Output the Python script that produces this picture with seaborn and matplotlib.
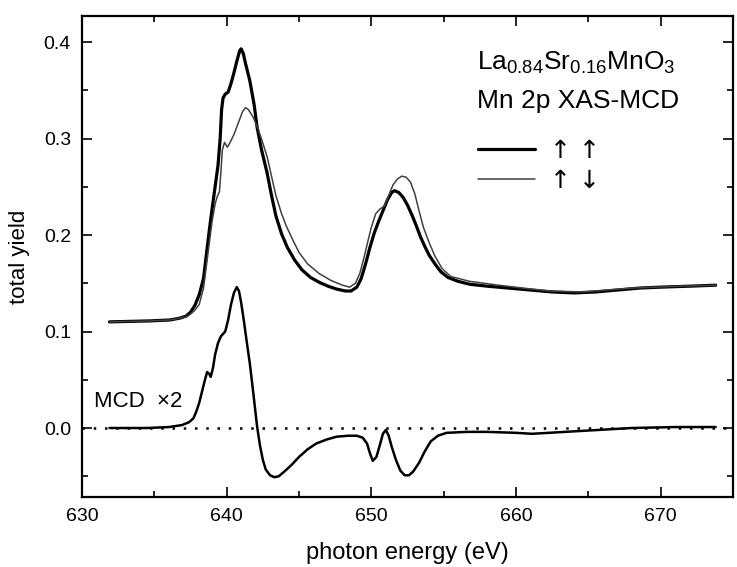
import matplotlib
matplotlib.use("Agg")
import matplotlib.pyplot as plt
import pandas as pd
import seaborn as sns

# photon energy (eV) and total yield, parallel (up-up)
e_par = [631.9, 634.7, 636.1, 636.8, 637.2, 637.5, 637.8, 638.1, 638.4, 638.6,
         638.8, 639.0, 639.2, 639.4, 639.55, 639.65, 639.75, 639.9, 640.1, 640.3,
         640.5, 640.7, 640.9, 641.0, 641.15, 641.3, 641.6, 641.9, 642.1, 642.4,
         642.8, 643.1, 643.4, 643.8, 644.2, 644.7, 645.2, 645.8, 646.4, 647.0,
         647.6, 648.2, 648.6, 649.0, 649.3, 649.6, 649.9, 650.2, 650.5, 650.8,
         651.1, 651.4, 651.6, 651.9, 652.2, 652.5, 652.8, 653.1, 653.4, 653.7,
         654.0, 654.4, 654.8, 655.3, 656.0, 656.8, 658.0, 659.5, 661.0, 662.5,
         664.0, 665.5, 667.0, 668.5, 670.0, 672.0, 673.8]
y_par = [0.110, 0.111, 0.112, 0.114, 0.116, 0.120, 0.127, 0.138, 0.155, 0.180,
         0.205, 0.228, 0.250, 0.272, 0.300, 0.330, 0.342, 0.346, 0.348, 0.357,
         0.368, 0.380, 0.391, 0.393, 0.388, 0.378, 0.360, 0.335, 0.312, 0.289,
         0.264, 0.241, 0.220, 0.201, 0.187, 0.174, 0.164, 0.156, 0.151, 0.147,
         0.144, 0.142, 0.142, 0.146, 0.155, 0.170, 0.187, 0.202, 0.214, 0.225,
         0.236, 0.244, 0.246, 0.244, 0.239, 0.231, 0.221, 0.210, 0.198, 0.188,
         0.179, 0.170, 0.162, 0.156, 0.152, 0.149, 0.147, 0.145, 0.143, 0.141,
         0.140, 0.141, 0.143, 0.145, 0.146, 0.147, 0.148]

# antiparallel (up-down)
e_anti = [631.9, 634.7, 636.1, 636.8, 637.2, 637.5, 637.8, 638.1, 638.4, 638.7,
          639.0, 639.2, 639.35, 639.5, 639.6, 639.7, 639.85, 640.05, 640.2, 640.5,
          640.9, 641.1, 641.3, 641.5, 641.8, 642.1, 642.4, 642.8, 643.1, 643.4,
          643.8, 644.1, 644.6, 645.0, 645.6, 646.4, 647.2, 648.0, 648.5, 648.9,
          649.2, 649.5, 649.8, 650.0, 650.3, 650.6, 650.9, 651.2, 651.5, 651.8,
          652.1, 652.4, 652.7, 653.0, 653.3, 653.6, 654.0, 654.4, 654.9, 655.5,
          656.8, 658.8, 660.5, 662.3, 664.6, 668.0, 671.4, 673.8]
y_anti = [0.110, 0.111, 0.112, 0.114, 0.115, 0.118, 0.122, 0.128, 0.145, 0.180,
          0.215, 0.232, 0.240, 0.245, 0.265, 0.288, 0.296, 0.291, 0.295, 0.304,
          0.320, 0.328, 0.332, 0.330, 0.323, 0.313, 0.300, 0.281, 0.261, 0.241,
          0.222, 0.210, 0.194, 0.182, 0.170, 0.160, 0.153, 0.148, 0.146, 0.150,
          0.160, 0.177, 0.196, 0.208, 0.222, 0.227, 0.230, 0.241, 0.252, 0.258,
          0.261, 0.260, 0.255, 0.243, 0.225, 0.208, 0.192, 0.178, 0.165, 0.157,
          0.152, 0.148, 0.145, 0.142, 0.141, 0.145, 0.147, 0.148]

# MCD x2
e_mcd = [631.9, 634.5, 636.0, 636.9, 637.4, 637.7, 637.9, 638.1, 638.3, 638.5,
         638.65, 638.8, 638.9, 639.05, 639.2, 639.4, 639.6, 639.9, 640.1, 640.3,
         640.5, 640.7, 640.85, 641.0, 641.2, 641.4, 641.6, 641.85, 642.1, 642.3,
         642.5, 642.7, 643.0, 643.3, 643.6, 644.0, 644.5, 645.0, 645.6, 646.2,
         646.9, 647.6, 648.4, 649.0, 649.4, 649.7, 649.9, 650.1, 650.35, 650.6,
         650.8, 651.0, 651.2, 651.4, 651.7, 652.0, 652.3, 652.6, 652.9, 653.3,
         653.7, 654.1, 654.6, 655.2, 656.6, 658.0, 660.0, 661.1, 663.4, 665.7,
         668.0, 671.0, 673.8]
y_mcd = [0.000, 0.000, 0.001, 0.003, 0.006, 0.010, 0.017, 0.026, 0.038, 0.050,
         0.058, 0.056, 0.053, 0.062, 0.076, 0.088, 0.095, 0.100, 0.112, 0.128,
         0.140, 0.146, 0.142, 0.130, 0.110, 0.088, 0.067, 0.035, 0.002, -0.018,
         -0.033, -0.043, -0.049, -0.051, -0.050, -0.045, -0.038, -0.030, -0.022, -0.016,
         -0.012, -0.009, -0.008, -0.008, -0.010, -0.016, -0.026, -0.034, -0.030, -0.017,
         -0.006, -0.002, -0.008, -0.019, -0.033, -0.044, -0.049, -0.049, -0.045, -0.036,
         -0.024, -0.014, -0.008, -0.005, -0.004, -0.004, -0.005, -0.006, -0.004, -0.002,
         0.000, 0.001, 0.001]

sns.set_style("ticks")
plt.rcParams["font.family"] = ["Liberation Sans", "DejaVu Sans"]
plt.rcParams["mathtext.fontset"] = "custom"
plt.rcParams["mathtext.rm"] = "Liberation Sans"
plt.rcParams["text.color"] = "black"
plt.rcParams["axes.labelcolor"] = "black"
plt.rcParams["xtick.color"] = "black"
plt.rcParams["ytick.color"] = "black"

fig = plt.figure(figsize=(7.37, 5.67), dpi=100)
ax = fig.add_axes([82 / 737, 1 - 497 / 567, 651 / 737, 481 / 567])

df_par = pd.DataFrame({"e": e_par, "y": y_par})
df_anti = pd.DataFrame({"e": e_anti, "y": y_anti})
df_mcd = pd.DataFrame({"e": e_mcd, "y": y_mcd})

ax.axhline(0, color="black", lw=1.8, ls=(0, (1, 3.5)))
sns.lineplot(data=df_par, x="e", y="y", ax=ax, color="black", lw=2.3,
             label="↑ ↑", sort=False)
sns.lineplot(data=df_anti, x="e", y="y", ax=ax, color="#404040", lw=1.1,
             label="↑ ↓", sort=False)
sns.lineplot(data=df_mcd, x="e", y="y", ax=ax, color="black", lw=1.8,
             sort=False, legend=False)

ax.set_xlim(630, 675)
ax.set_ylim(-0.0715, 0.427)
ax.set_xticks([630, 640, 650, 660, 670])
ax.set_xticks(range(635, 675, 10), minor=True)
ax.set_yticks([0.0, 0.1, 0.2, 0.3, 0.4])
ax.set_yticks([-0.05, 0.05, 0.15, 0.25, 0.35], minor=True)
ax.set_yticklabels(["0.0", "0.1", "0.2", "0.3", "0.4"])
ax.tick_params(which="both", direction="in", top=True, right=True,
               width=1.2, labelsize=14, pad=8)
ax.tick_params(which="major", length=7)
ax.tick_params(which="minor", length=4)
for s in ax.spines.values():
    s.set_linewidth(1.6)
    s.set_color("black")

ax.set_xlabel("photon energy (eV)", fontsize=17, labelpad=12)
ax.set_ylabel("total yield", fontsize=16, labelpad=10)

ax.text(657.3, 0.371, r"$\mathrm{La_{0.84}Sr_{0.16}MnO_3}$", fontsize=19)
ax.text(657.3, 0.332, "Mn 2p XAS-MCD", fontsize=19)
ax.text(630.8, 0.022, "MCD  ×2", fontsize=16)

ax.legend(loc="upper left", bbox_to_anchor=(0.608, 0.745), frameon=False,
          prop={"family": "DejaVu Sans", "size": 18}, handlelength=2.3,
          handletextpad=0.6, labelspacing=0.25, borderpad=0, borderaxespad=0)

fig.savefig("out.png", dpi=100)
